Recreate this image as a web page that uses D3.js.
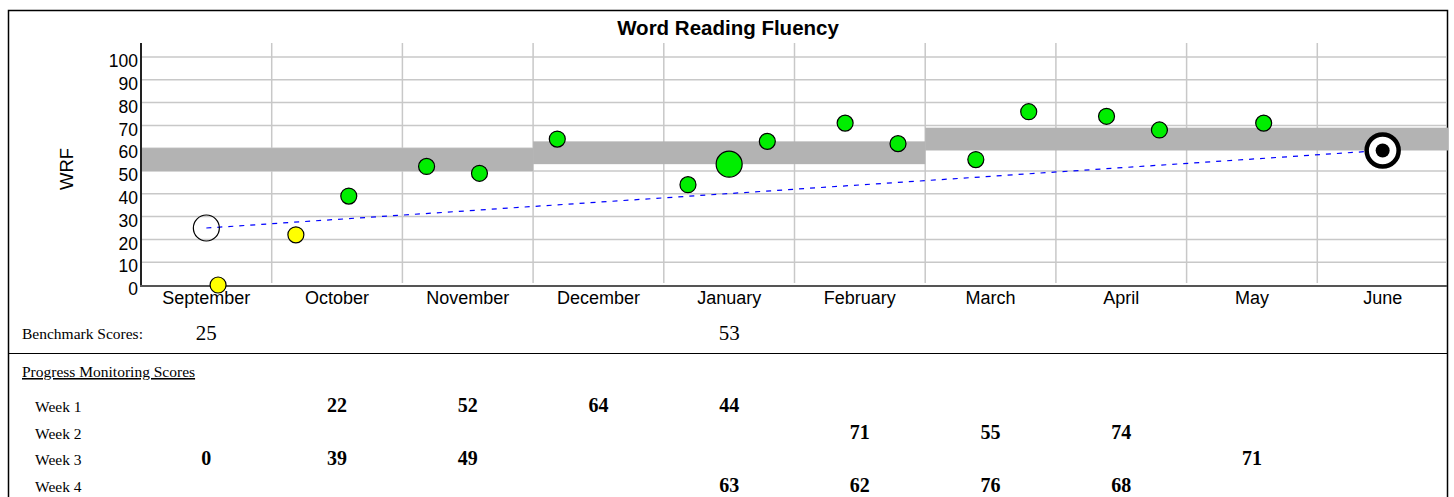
<!DOCTYPE html>
<html>
<head>
<meta charset="utf-8">
<script src="https://cdn.jsdelivr.net/npm/d3@7"></script>
<style>
  body { margin: 0; background: #fff; }
  svg { display: block; }
</style>
</head>
<body>
<svg id="chart" width="1454" height="497"></svg>
<script>
const months = ["September", "October", "November", "December", "January", "February", "March", "April", "May", "June"];
const yTicks = [0, 10, 20, 30, 40, 50, 60, 70, 80, 90, 100];

// benchmark ranges (grey bands): [first month, last month, low, high]
const bandRanges = [
    ["September", "November", 50, 60],
    ["December", "February", 53, 63],
    ["March", "June", 59, 69]
];

// benchmark scores
const benchMonths = ["September", "January"];
const benchScores = [25, 53];

// goal
const goalMonth = "June";
const goalScore = 59;

// progress monitoring scores, one array per week (null = none)
const week1 = [null, 22, 52, 64, 44, null, null, null, null, null];
const week2 = [null, null, null, null, null, 71, 55, 74, null, null];
const week3 = [0, 39, 49, null, null, null, null, null, 71, null];
const week4 = [null, null, null, null, 63, 62, 76, 68, null, null];
const weeks = [week1, week2, week3, week4];
const weekLabels = ["Week 1", "Week 2", "Week 3", "Week 4"];

const sans = "'Liberation Sans', Arial, sans-serif";
const serif = "'Liberation Serif', 'Times New Roman', serif";

const svg = d3.select("#chart");

const x = d3.scaleBand().domain(months).range([141, 1448]);
const y = d3.scaleLinear().domain([0, 100]).range([285, 57]);
const weekPos = d3.scaleLinear().domain([1, 4]).range([0.185, 0.792]);
const mid = m => x(m) + x.bandwidth() / 2;

// outer frame + separator
svg.append("rect")
    .attr("x", 8.5).attr("y", 10.5)
    .attr("width", 1439).attr("height", 500)
    .attr("fill", "none").attr("stroke", "#000").attr("stroke-width", 1.5);
svg.append("line")
    .attr("x1", 8).attr("x2", 1448).attr("y1", 353.5).attr("y2", 353.5)
    .attr("stroke", "#000").attr("stroke-width", 1.2);

svg.append("text")
    .attr("x", 728).attr("y", 35)
    .attr("text-anchor", "middle")
    .style("font", `bold 20.5px ${sans}`)
    .text("Word Reading Fluency");

// grid
const grid = svg.append("g");
grid.selectAll(".h")
    .data(yTicks.filter(d => d > 0))
    .enter().append("line")
    .attr("x1", 141).attr("x2", 1446)
    .attr("y1", d => y(d)).attr("y2", d => y(d))
    .attr("stroke", "#c8c8c8").attr("stroke-width", 1.5);
grid.selectAll(".v")
    .data(months.slice(1))
    .enter().append("line")
    .attr("x1", d => x(d)).attr("x2", d => x(d))
    .attr("y1", 43).attr("y2", 283)
    .attr("stroke", "#c8c8c8").attr("stroke-width", 1.5);

// benchmark bands
svg.append("g").selectAll("rect")
    .data(bandRanges)
    .enter().append("rect")
    .attr("x", d => x(d[0]))
    .attr("width", d => x(d[1]) + x.bandwidth() - x(d[0]))
    .attr("y", d => y(d[3]))
    .attr("height", d => y(d[2]) - y(d[3]))
    .attr("fill", "#b3b3b3");

// axes
const yAxis = svg.append("g")
    .attr("transform", "translate(141,0)")
    .call(d3.axisLeft(y).tickValues(yTicks).tickSize(0).tickPadding(3));
yAxis.select(".domain").remove();
yAxis.selectAll("text")
    .attr("dy", "0.55em")
    .style("font", `17.5px ${sans}`).attr("fill", "#000");

const xAxis = svg.append("g")
    .attr("transform", "translate(0,286)")
    .call(d3.axisBottom(x).tickSize(0).tickPadding(5));
xAxis.select(".domain").remove();
xAxis.selectAll("text")
    .style("font", `18px ${sans}`).attr("fill", "#000");

svg.append("line")
    .attr("x1", 141).attr("x2", 141).attr("y1", 43).attr("y2", 287)
    .attr("stroke", "#222").attr("stroke-width", 2);
svg.append("line")
    .attr("x1", 140).attr("x2", 1447).attr("y1", 286).attr("y2", 286)
    .attr("stroke", "#555").attr("stroke-width", 2);

svg.append("text")
    .attr("transform", "translate(73,169) rotate(-90)")
    .attr("text-anchor", "middle")
    .style("font", `18.5px ${sans}`)
    .text("WRF");

// aimline
const aim = d3.scaleLinear()
    .domain([mid(benchMonths[0]), mid(goalMonth)])
    .range([benchScores[0], goalScore]);
svg.append("line")
    .attr("x1", mid(benchMonths[0])).attr("y1", y(benchScores[0]))
    .attr("x2", mid(goalMonth)).attr("y2", y(goalScore))
    .attr("stroke", "#0000ff").attr("stroke-width", 1.2)
    .attr("stroke-dasharray", "5,6");

// first benchmark = open circle, others green
svg.append("g").selectAll("circle")
    .data(benchMonths.map((m, i) => ({ m, v: benchScores[i], i })))
    .enter().append("circle")
    .attr("cx", d => mid(d.m)).attr("cy", d => y(d.v))
    .attr("r", 13)
    .attr("fill", d => d.i === 0 ? "none" : "#00ee00")
    .attr("stroke", "#000").attr("stroke-width", 1.2);

// progress points
const pts = [];
weeks.forEach((w, wi) => w.forEach((v, mi) => {
    if (v !== null) pts.push({ m: months[mi], v, wk: wi + 1 });
}));
svg.append("g").selectAll("circle")
    .data(pts)
    .enter().append("circle")
    .attr("cx", d => x(d.m) + weekPos(d.wk) * x.bandwidth())
    .attr("cy", d => y(d.v))
    .attr("r", 8)
    .attr("fill", d => d.v < aim(x(d.m) + weekPos(d.wk) * x.bandwidth()) ? "#ffff00" : "#00ee00")
    .attr("stroke", "#000").attr("stroke-width", 1.2);

// goal target
svg.append("circle")
    .attr("cx", mid(goalMonth)).attr("cy", y(goalScore))
    .attr("r", 16).attr("fill", "#fff")
    .attr("stroke", "#000").attr("stroke-width", 4.5);
svg.append("circle")
    .attr("cx", mid(goalMonth)).attr("cy", y(goalScore))
    .attr("r", 7).attr("fill", "#000");

// benchmark scores row
svg.append("text")
    .attr("x", 22).attr("y", 339)
    .style("font", `15.5px ${serif}`)
    .text("Benchmark Scores:");
svg.append("g").selectAll("text")
    .data(benchMonths.map((m, i) => ({ m, v: benchScores[i] })))
    .enter().append("text")
    .attr("x", d => mid(d.m)).attr("y", 340)
    .attr("text-anchor", "middle")
    .style("font", `21px ${serif}`)
    .text(d => d.v);

// progress monitoring table
svg.append("text")
    .attr("x", 22).attr("y", 377)
    .attr("text-decoration", "underline")
    .style("font", `15.5px ${serif}`)
    .text("Progress Monitoring Scores");

const rowY = d3.scalePoint().domain(weekLabels).range([412, 492]);
svg.append("g").selectAll("text")
    .data(weekLabels)
    .enter().append("text")
    .attr("x", 35).attr("y", d => rowY(d))
    .style("font", `15.5px ${serif}`)
    .text(d => d);

svg.append("g").selectAll("text")
    .data(pts)
    .enter().append("text")
    .attr("x", d => mid(d.m)).attr("y", d => rowY(weekLabels[d.wk - 1]))
    .attr("text-anchor", "middle")
    .style("font", `bold 20px ${serif}`)
    .text(d => d.v);
</script>
</body>
</html>
